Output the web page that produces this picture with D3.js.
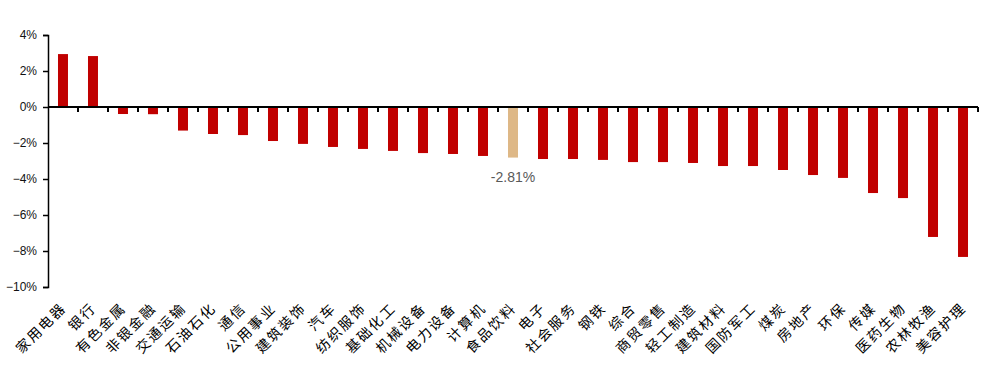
<!DOCTYPE html>
<html>
<head>
<meta charset="utf-8">
<script src="https://cdn.jsdelivr.net/npm/d3@7"></script>
<style>
  html, body { margin: 0; padding: 0; background: #fff; }
  svg { display: block; }
</style>
</head>
<body>
<svg id="chart" width="1000" height="369"></svg>
<script>
const categories = ["家用电器","银行","有色金属","非银金融","交通运输","石油石化","通信","公用事业","建筑装饰","汽车","纺织服饰","基础化工","机械设备","电力设备","计算机","食品饮料","电子","社会服务","钢铁","综合","商贸零售","轻工制造","建筑材料","国防军工","煤炭","房地产","环保","传媒","医药生物","农林牧渔","美容护理"];
const values = [2.94,2.83,-0.39,-0.40,-1.31,-1.50,-1.56,-1.89,-2.05,-2.22,-2.33,-2.44,-2.56,-2.61,-2.72,-2.81,-2.89,-2.89,-2.94,-3.06,-3.06,-3.11,-3.28,-3.28,-3.50,-3.78,-3.94,-4.78,-5.06,-7.22,-8.33];
const highlight = "食品饮料";
const highlightLabel = "-2.81%";
const yTicks = [4,2,0,-2,-4,-6,-8,-10];
const yTickLabels = ["4%","2%","0%","−2%","−4%","−6%","−8%","−10%"];

const svg = d3.select("#chart");
const mLeft = 48, mRight = 978, mTop = 35, mBottom = 287;

const x = d3.scaleBand().domain(categories).range([mLeft, mRight]).paddingInner(0.667).paddingOuter(0.333);
const y = d3.scaleLinear().domain([-10, 4]).range([mBottom, mTop]);

const data = categories.map((c, i) => ({cat: c, v: values[i]}));

// bars
svg.append("g").selectAll("rect").data(data).join("rect")
  .attr("x", d => x(d.cat))
  .attr("width", x.bandwidth())
  .attr("y", d => y(Math.max(0, d.v)))
  .attr("height", d => Math.abs(y(d.v) - y(0)))
  .attr("fill", d => d.cat === highlight ? "#DEB887" : "#C00000");

// y axis
const yAxis = d3.axisLeft(y).tickValues(yTicks).tickSize(5).tickPadding(6)
  .tickFormat((d, i) => yTickLabels[i]);
const gy = svg.append("g").attr("transform", `translate(${mLeft},0)`).call(yAxis);
gy.select(".domain").attr("stroke", "#000").attr("stroke-width", 1.5);
gy.selectAll(".tick line").attr("stroke", "#000").attr("stroke-width", 1.5);
gy.selectAll(".tick text").attr("fill", "#111").style("font-family", "'Liberation Sans', Arial, sans-serif").style("font-size", "12px");

// zero line with category boundary ticks
const step = x.step();
const boundaries = d3.range(1, categories.length + 1).map(i => mLeft + i * step);
const gx = svg.append("g");
gx.append("line").attr("x1", mLeft).attr("x2", mRight).attr("y1", y(0)).attr("y2", y(0))
  .attr("stroke", "#000").attr("stroke-width", 2);
gx.selectAll("line.tk").data(boundaries).join("line").attr("class", "tk")
  .attr("x1", d => d).attr("x2", d => d)
  .attr("y1", y(0)).attr("y2", y(0) + 5)
  .attr("stroke", "#000").attr("stroke-width", 2);

// category labels
svg.append("g").selectAll("text").data(data).join("text")
  .attr("transform", d => `translate(${x(d.cat) + x.bandwidth() / 2 + 4},${309}) rotate(-45)`)
  .attr("text-anchor", "end")
  .style("font-family", "'Noto Sans CJK SC', sans-serif")
  .style("font-size", "14px")
  .style("letter-spacing", "2px")
  .attr("fill", "#000")
  .text(d => d.cat);

// highlight data label
const hd = data.find(d => d.cat === highlight);
svg.append("text")
  .attr("x", x(hd.cat) + x.bandwidth() / 2)
  .attr("y", y(hd.v) + 24)
  .attr("text-anchor", "middle")
  .style("font-family", "'Liberation Sans', Arial, sans-serif")
  .style("font-size", "14px")
  .attr("fill", "#595959")
  .text(highlightLabel);
</script>
</body>
</html>
